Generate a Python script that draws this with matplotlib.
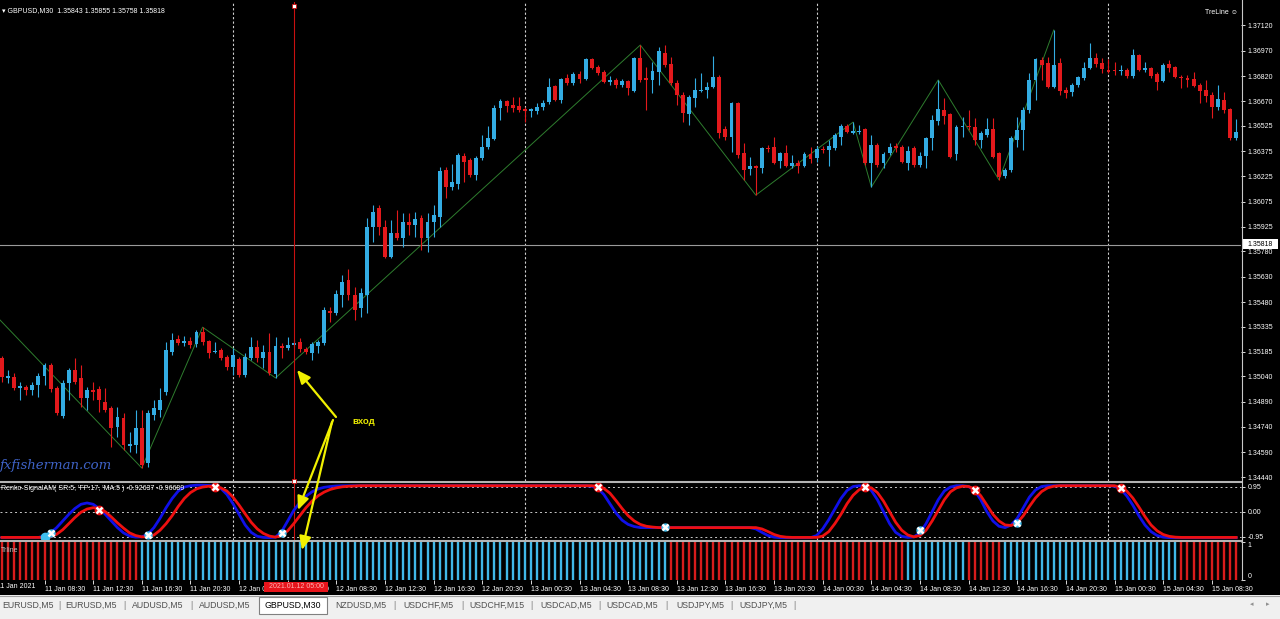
import numpy as np
import matplotlib.pyplot as plt
from matplotlib.patches import Rectangle

plt.rcParams['font.family'] = ['Liberation Sans', 'DejaVu Sans']

# GBPUSD M30, bar index 0 = 12 Jan 2021 00:00, first visible bar = 11 Jan 05:00
first_bar = -38

opens = [
    1.35149, 1.35030, 1.35035, 1.34971, 1.34976, 1.34958, 1.34988, 1.35041, 1.35106, 1.34971,
    1.34804, 1.35000, 1.35077, 1.35030, 1.34911, 1.34958, 1.34965, 1.34887, 1.34852, 1.34738,
    1.34793, 1.34626, 1.34632, 1.34733, 1.34525, 1.34810, 1.34840, 1.34946, 1.35184, 1.35261,
    1.35237, 1.35249, 1.35231, 1.35302, 1.35249, 1.35184, 1.35196, 1.35154, 1.35095, 1.35142,
    1.35047, 1.35149, 1.35213, 1.35149, 1.35184, 1.35053, 1.35219, 1.35208, 1.35225, 1.35243,
    1.35202, 1.35178, 1.35219, 1.35237, 1.35427, 1.35415, 1.35521, 1.35611, 1.35521, 1.35445,
    1.35521, 1.35924, 1.36038, 1.35924, 1.35747, 1.35889, 1.35860, 1.35954, 1.35936, 1.35979,
    1.35860, 1.35954, 1.35984, 1.36263, 1.36162, 1.36180, 1.36346, 1.36322, 1.36233, 1.36334,
    1.36399, 1.36447, 1.36631, 1.36672, 1.36648, 1.36642, 1.36625, 1.36613, 1.36613, 1.36637,
    1.36666, 1.36761, 1.36678, 1.36809, 1.36779, 1.36832, 1.36803, 1.36921, 1.36874, 1.36844,
    1.36785, 1.36797, 1.36767, 1.36791, 1.36731, 1.36927, 1.36809, 1.36797, 1.36844, 1.36957,
    1.36892, 1.36779, 1.36707, 1.36595, 1.36690, 1.36731, 1.36737, 1.36755, 1.36815, 1.36506,
    1.36459, 1.36660, 1.36364, 1.36269, 1.36287, 1.36275, 1.36393, 1.36399, 1.36316, 1.36364,
    1.36287, 1.36304, 1.36287, 1.36358, 1.36334, 1.36387, 1.36381, 1.36393, 1.36459, 1.36524,
    1.36482, 1.36488, 1.36506, 1.36304, 1.36411, 1.36304, 1.36364, 1.36405, 1.36399, 1.36304,
    1.36393, 1.36293, 1.36346, 1.36453, 1.36553, 1.36619, 1.36595, 1.36358, 1.36518, 1.36524,
    1.36518, 1.36441, 1.36471, 1.36506, 1.36364, 1.36227, 1.36263, 1.36441, 1.36500, 1.36619,
    1.36797, 1.36915, 1.36897, 1.36755, 1.36897, 1.36737, 1.36725, 1.36767, 1.36809, 1.36868,
    1.36927, 1.36897, 1.36856, 1.36856, 1.36850, 1.36856, 1.36820, 1.36945, 1.36856, 1.36868,
    1.36832, 1.36791, 1.36892, 1.36874, 1.36815, 1.36809, 1.36803, 1.36767, 1.36737, 1.36707,
    1.36637, 1.36678, 1.36625, 1.36453,
]
highs = [
    1.35160, 1.35077, 1.35059, 1.35006, 1.34988, 1.35006, 1.35059, 1.35118, 1.35118, 1.34982,
    1.35018, 1.35089, 1.35149, 1.35106, 1.34976, 1.35006, 1.34982, 1.34971, 1.34863, 1.34857,
    1.34822, 1.34709, 1.34840, 1.34840, 1.34840, 1.34899, 1.34971, 1.35243, 1.35296, 1.35284,
    1.35278, 1.35272, 1.35314, 1.35331, 1.35255, 1.35243, 1.35208, 1.35166, 1.35208, 1.35154,
    1.35178, 1.35272, 1.35255, 1.35225, 1.35296, 1.35272, 1.35237, 1.35272, 1.35255, 1.35267,
    1.35213, 1.35243, 1.35255, 1.35450, 1.35450, 1.35551, 1.35640, 1.35676, 1.35569, 1.35563,
    1.35979, 1.36055, 1.36055, 1.35966, 1.35966, 1.36026, 1.36008, 1.36008, 1.36014, 1.35996,
    1.36008, 1.36055, 1.36281, 1.36281, 1.36298, 1.36364, 1.36364, 1.36334, 1.36346, 1.36471,
    1.36524, 1.36648, 1.36684, 1.36678, 1.36696, 1.36696, 1.36637, 1.36631, 1.36660, 1.36678,
    1.36809, 1.36767, 1.36809, 1.36832, 1.36844, 1.36850, 1.36927, 1.36927, 1.36886, 1.36856,
    1.36820, 1.36809, 1.36803, 1.36797, 1.36933, 1.37004, 1.36874, 1.36903, 1.36992, 1.37004,
    1.36933, 1.36797, 1.36725, 1.36707, 1.36809, 1.36838, 1.36785, 1.36939, 1.36826, 1.36524,
    1.36666, 1.36666, 1.36423, 1.36340, 1.36293, 1.36399, 1.36411, 1.36459, 1.36370, 1.36411,
    1.36352, 1.36322, 1.36370, 1.36399, 1.36405, 1.36405, 1.36441, 1.36482, 1.36536, 1.36536,
    1.36547, 1.36530, 1.36512, 1.36471, 1.36423, 1.36370, 1.36423, 1.36423, 1.36411, 1.36405,
    1.36405, 1.36370, 1.36459, 1.36589, 1.36797, 1.36690, 1.36601, 1.36530, 1.36577, 1.36619,
    1.36571, 1.36494, 1.36571, 1.36571, 1.36370, 1.36275, 1.36465, 1.36577, 1.36637, 1.36838,
    1.36927, 1.36933, 1.36933, 1.37093, 1.36927, 1.36755, 1.36779, 1.36820, 1.36903, 1.37016,
    1.36957, 1.36927, 1.36921, 1.36903, 1.36886, 1.36868, 1.36980, 1.36951, 1.36903, 1.36874,
    1.36844, 1.36897, 1.36915, 1.36880, 1.36826, 1.36826, 1.36844, 1.36779, 1.36797, 1.36725,
    1.36767, 1.36725, 1.36631, 1.36565,
]
lows = [
    1.35006, 1.35000, 1.34958, 1.34899, 1.34928, 1.34928, 1.34916, 1.34988, 1.34946, 1.34810,
    1.34793, 1.34899, 1.34994, 1.34857, 1.34840, 1.34899, 1.34828, 1.34828, 1.34620, 1.34679,
    1.34603, 1.34591, 1.34585, 1.34496, 1.34502, 1.34780, 1.34798, 1.34928, 1.35166, 1.35225,
    1.35219, 1.35208, 1.35213, 1.35225, 1.35149, 1.35178, 1.35136, 1.35077, 1.35047, 1.35035,
    1.35035, 1.35136, 1.35124, 1.35089, 1.35047, 1.35030, 1.35149, 1.35196, 1.35213, 1.35184,
    1.35172, 1.35136, 1.35178, 1.35225, 1.35361, 1.35403, 1.35450, 1.35492, 1.35373, 1.35391,
    1.35415, 1.35836, 1.35877, 1.35741, 1.35741, 1.35848, 1.35806, 1.35877, 1.35866, 1.35788,
    1.35776, 1.35866, 1.35924, 1.36097, 1.36144, 1.36150, 1.36192, 1.36221, 1.36204, 1.36322,
    1.36387, 1.36441, 1.36559, 1.36607, 1.36607, 1.36607, 1.36547, 1.36577, 1.36595, 1.36619,
    1.36654, 1.36672, 1.36660, 1.36767, 1.36767, 1.36779, 1.36797, 1.36862, 1.36826, 1.36779,
    1.36767, 1.36749, 1.36755, 1.36707, 1.36725, 1.36785, 1.36619, 1.36720, 1.36767, 1.36874,
    1.36767, 1.36648, 1.36547, 1.36530, 1.36637, 1.36725, 1.36690, 1.36749, 1.36453, 1.36441,
    1.36370, 1.36334, 1.36204, 1.36233, 1.36114, 1.36245, 1.36370, 1.36298, 1.36275, 1.36281,
    1.36275, 1.36245, 1.36281, 1.36304, 1.36310, 1.36364, 1.36287, 1.36381, 1.36411, 1.36482,
    1.36477, 1.36477, 1.36293, 1.36162, 1.36281, 1.36275, 1.36352, 1.36370, 1.36304, 1.36263,
    1.36281, 1.36281, 1.36275, 1.36382, 1.36530, 1.36536, 1.36334, 1.36322, 1.36459, 1.36500,
    1.36411, 1.36393, 1.36459, 1.36334, 1.36204, 1.36216, 1.36251, 1.36399, 1.36382, 1.36601,
    1.36678, 1.36797, 1.36749, 1.36749, 1.36707, 1.36690, 1.36702, 1.36755, 1.36797, 1.36862,
    1.36874, 1.36838, 1.36838, 1.36826, 1.36826, 1.36809, 1.36809, 1.36850, 1.36844, 1.36809,
    1.36737, 1.36785, 1.36844, 1.36809, 1.36749, 1.36755, 1.36755, 1.36660, 1.36666, 1.36571,
    1.36619, 1.36601, 1.36441, 1.36441,
]
closes = [
    1.35035, 1.35041, 1.34971, 1.34982, 1.34958, 1.34988, 1.35041, 1.35106, 1.34965, 1.34822,
    1.35000, 1.35077, 1.35006, 1.34911, 1.34958, 1.34946, 1.34899, 1.34840, 1.34733, 1.34798,
    1.34632, 1.34638, 1.34733, 1.34513, 1.34822, 1.34852, 1.34899, 1.35196, 1.35255, 1.35237,
    1.35249, 1.35225, 1.35302, 1.35243, 1.35178, 1.35190, 1.35149, 1.35095, 1.35166, 1.35047,
    1.35154, 1.35213, 1.35149, 1.35184, 1.35059, 1.35219, 1.35208, 1.35225, 1.35237, 1.35202,
    1.35184, 1.35231, 1.35243, 1.35433, 1.35415, 1.35527, 1.35599, 1.35521, 1.35433, 1.35533,
    1.35924, 1.36014, 1.35924, 1.35747, 1.35889, 1.35860, 1.35954, 1.35936, 1.35972, 1.35860,
    1.35954, 1.35996, 1.36257, 1.36162, 1.36192, 1.36352, 1.36310, 1.36233, 1.36334, 1.36399,
    1.36453, 1.36631, 1.36672, 1.36642, 1.36631, 1.36619, 1.36613, 1.36625, 1.36637, 1.36660,
    1.36755, 1.36678, 1.36803, 1.36779, 1.36832, 1.36803, 1.36921, 1.36868, 1.36838, 1.36785,
    1.36797, 1.36767, 1.36791, 1.36749, 1.36927, 1.36797, 1.36797, 1.36850, 1.36969, 1.36886,
    1.36779, 1.36707, 1.36601, 1.36696, 1.36737, 1.36737, 1.36755, 1.36815, 1.36482, 1.36459,
    1.36660, 1.36352, 1.36263, 1.36287, 1.36275, 1.36393, 1.36387, 1.36304, 1.36364, 1.36287,
    1.36304, 1.36287, 1.36358, 1.36328, 1.36387, 1.36381, 1.36405, 1.36471, 1.36524, 1.36488,
    1.36494, 1.36494, 1.36304, 1.36411, 1.36293, 1.36358, 1.36399, 1.36393, 1.36310, 1.36376,
    1.36293, 1.36346, 1.36453, 1.36559, 1.36625, 1.36583, 1.36340, 1.36518, 1.36524, 1.36518,
    1.36441, 1.36482, 1.36506, 1.36340, 1.36221, 1.36263, 1.36453, 1.36500, 1.36619, 1.36797,
    1.36921, 1.36886, 1.36755, 1.36886, 1.36731, 1.36720, 1.36767, 1.36815, 1.36868, 1.36927,
    1.36892, 1.36862, 1.36844, 1.36850, 1.36856, 1.36820, 1.36945, 1.36856, 1.36868, 1.36820,
    1.36785, 1.36886, 1.36868, 1.36815, 1.36809, 1.36797, 1.36761, 1.36731, 1.36702, 1.36637,
    1.36684, 1.36619, 1.36453, 1.36488,
]

# zigzag pivots (bar index, price); the first one is off screen to the left
zz_bars = [-45, -15, -5, 7, 67, 86, 102, 105, 116, 126, 135]
zz_prices = [1.35625, 1.34496, 1.35331, 1.35030, 1.37004, 1.36114, 1.36547, 1.36162,
             1.36797, 1.36204, 1.37093]

bid_price = 1.35818
price_labels = ['1.37120', '1.36970', '1.36820', '1.36670', '1.36525', '1.36375', '1.36225',
                '1.36075', '1.35925', '1.35780', '1.35630', '1.35480', '1.35335', '1.35185',
                '1.35040', '1.34890', '1.34740', '1.34590', '1.34440']

# Renko-SignalAM lines (blue = signal, red = MA)
sig_blue = ([-0.97] * 7 +
            [-0.92, -0.8, -0.6, -0.35, -0.1, 0.12, 0.28, 0.33, 0.28, 0.12, -0.1, -0.35, -0.6,
             -0.8, -0.92, -0.96, -0.95, -0.85, -0.6, -0.25, 0.15, 0.5, 0.78, 0.93, 0.98, 1.0,
             1.0, 0.99, 0.97, 0.88, 0.65, 0.3, -0.1, -0.5, -0.78, -0.93, -0.97, -0.98, -0.96,
             -0.75, -0.35, 0.05, 0.35, 0.58, 0.75, 0.86, 0.92, 0.95, 0.97] +
            [0.98] * 41 +
            [0.96, 0.88, 0.65, 0.3, -0.05, -0.32, -0.48, -0.56, -0.6] +
            [-0.6] * 18 +
            [-0.65, -0.78, -0.9, -0.96] +
            [-0.98] * 6 +
            [-0.9, -0.65, -0.3, 0.1, 0.5, 0.8, 0.95, 0.98, 0.95,
             0.8, 0.45, 0.0, -0.45, -0.78, -0.93, -0.97, -0.95,
             -0.8, -0.45, 0.0, 0.45, 0.78, 0.93, 0.98, 0.98, 0.95,
             0.8, 0.45, 0.0, -0.35, -0.55, -0.6, -0.5,
             -0.25, 0.15, 0.55, 0.82, 0.95, 0.98] +
            [0.98] * 10 +
            [0.96, 0.85, 0.6, 0.25, -0.15, -0.5, -0.75, -0.9, -0.96] +
            [-0.98] * 12)
sig_red = ([-0.97] * 8 +
           [-0.95, -0.85, -0.68, -0.45, -0.22, -0.02, 0.1, 0.15, 0.12, 0.0, -0.2, -0.42, -0.62,
            -0.8, -0.9, -0.95, -0.95, -0.88, -0.7, -0.45, -0.15, 0.2, 0.5, 0.72, 0.86, 0.93,
            0.96, 0.95, 0.9, 0.78, 0.55, 0.25, -0.08, -0.4, -0.65, -0.82, -0.92, -0.96,
            -0.9, -0.72, -0.45, -0.15, 0.15, 0.4, 0.6, 0.74, 0.84, 0.9, 0.94, 0.96, 0.97] +
           [0.98] * 39 +
           [0.96, 0.88, 0.7, 0.42, 0.12, -0.15, -0.35, -0.48, -0.55, -0.58] +
           [-0.6] * 17 +
           [-0.65, -0.75, -0.86, -0.93, -0.96] +
           [-0.97] * 5 +
           [-0.92, -0.75, -0.45, -0.1, 0.3, 0.62, 0.83, 0.92, 0.9,
            0.72, 0.4, 0.0, -0.4, -0.7, -0.88, -0.95, -0.9,
            -0.7, -0.35, 0.05, 0.45, 0.75, 0.9, 0.96, 0.95, 0.85,
            0.6, 0.25, -0.1, -0.35, -0.5, -0.52, -0.42,
            -0.15, 0.2, 0.52, 0.76, 0.9, 0.96] +
           [0.98] * 10 +
           [0.92, 0.78, 0.52, 0.18, -0.18, -0.5, -0.72, -0.86, -0.93, -0.96] +
           [-0.97] * 10)

sell_bars = [-22, -3, 60, 104, 122, 146]
sell_vals = [0.05, 0.95, 0.95, 0.92, 0.8, 0.88]
buy_bars = [-30, -14, 8, 71, 113, 129]
buy_vals = [-0.82, -0.89, -0.81, -0.58, -0.7, -0.43]

# Trline histogram: state changes (bar index where a run starts, 1 = up / 0 = down)
trline_start = [-38, -15, 72, 111, 121, 127, 156]
trline_state = [0, 1, 0, 1, 0, 1, 0]

time_bars = [-31, -23, -15, -7, 1, 9, 17, 25, 33, 41, 49, 57, 65, 73, 81, 89, 97, 105, 113,
             121, 129, 137, 145, 153, 161]
time_labels = ['11 Jan 08:30', '11 Jan 12:30', '11 Jan 16:30', '11 Jan 20:30', '12 Jan 00:30',
               '12 Jan 04:30', '12 Jan 08:30', '12 Jan 12:30', '12 Jan 16:30', '12 Jan 20:30',
               '13 Jan 00:30', '13 Jan 04:30', '13 Jan 08:30', '13 Jan 12:30', '13 Jan 16:30',
               '13 Jan 20:30', '14 Jan 00:30', '14 Jan 04:30', '14 Jan 08:30', '14 Jan 12:30',
               '14 Jan 16:30', '14 Jan 20:30', '15 Jan 00:30', '15 Jan 04:30', '15 Jan 08:30']
day_starts = [0, 48, 96, 144]
cursor_bar = 10

tabs = ['EURUSD,M5', 'EURUSD,M5', 'AUDUSD,M5', 'AUDUSD,M5', 'GBPUSD,M30', 'NZDUSD,M5',
        'USDCHF,M5', 'USDCHF,M15', 'USDCAD,M5', 'USDCAD,M5', 'USDJPY,M5', 'USDJPY,M5']
tab_x = [28, 91, 158, 225, 293, 361, 428, 497, 566, 632, 700, 763]
active_tab = 4

BULL = '#33ace3'
BEAR = '#e3191c'
W, H = 1280, 619

idx = np.arange(first_bar, first_bar + len(closes))
o = np.array(opens)
h = np.array(highs)
l = np.array(lows)
c = np.array(closes)


def rect(x0, y0, x1, y1):
    # pixel box (top-left origin) -> figure fraction
    return [x0 / W, 1 - y1 / H, (x1 - x0) / W, (y1 - y0) / H]


fig = plt.figure(figsize=(W / 100, H / 100), dpi=100, facecolor='black')
ax = fig.add_axes(rect(0, 2, 1241, 481))
ax2 = fig.add_axes(rect(0, 483, 1241, 540), sharex=ax)
ax3 = fig.add_axes(rect(0, 542, 1241, 580), sharex=ax)

for a in (ax, ax2, ax3):
    a.set_facecolor('black')
    for s in a.spines.values():
        s.set_visible(False)
    a.yaxis.tick_right()
    a.tick_params(colors='white', labelsize=5, length=3, width=0.6, pad=2)
ax.tick_params(bottom=False, labelbottom=False)
ax2.tick_params(bottom=False, labelbottom=False)
ax.set_xlim(-38.32, 165.8)

# main price panel: candles
col = np.where(c >= o, BULL, BEAR)
ax.vlines(idx, l, h, colors=col, lw=0.8, zorder=3)
ax.bar(idx, np.maximum(np.abs(c - o), 0.00005), bottom=np.minimum(o, c), width=0.64,
       color=col, linewidth=0, zorder=4)
ax.plot(zz_bars, zz_prices, color='#2e7d2e', lw=0.7, zorder=2)
for d in day_starts:
    ax.axvline(d, color='#d0d0d0', lw=0.8, ls=(0, (2, 2)), zorder=1)
ax.axvline(cursor_bar, color='#c81010', lw=0.8, zorder=5)
ax.axhline(bid_price, color='#9a9a9a', lw=0.8, zorder=1)
ax.set_ylim(1.34419, 1.37259)
ax.set_yticks([float(v) for v in price_labels])
ax.set_yticklabels(price_labels)

# Renko-SignalAM panel
ax2.set_ylim(-1.068, 1.083)
for lev in (0.95, 0.0, -0.95):
    ax2.axhline(lev, color='#c8c8c8', lw=0.7, ls=(0, (2, 3)))
for d in day_starts:
    ax2.axvline(d, color='#d0d0d0', lw=0.8, ls=(0, (2, 2)))
ax2.axvline(cursor_bar, color='#c81010', lw=0.8)
ax2.plot(idx, sig_blue, color='#1010e8', lw=2.0)
ax2.plot(idx, sig_red, color='#ee1010', lw=2.0)
ax2.plot(sell_bars, sell_vals, 'o', ms=6, color='#ee1010', zorder=5)
ax2.plot(sell_bars, sell_vals, 'x', ms=4.5, mew=1.8, color='white', zorder=6)
ax2.plot(buy_bars, buy_vals, 'o', ms=5, color='#40c0f0', zorder=5)
ax2.plot(buy_bars, buy_vals, 'x', ms=4.5, mew=1.8, color='white', zorder=6)
ax2.plot([-31], [-0.96], 'o', ms=6, color='#40c0f0', zorder=5)
ax2.set_yticks([0.95, 0.0, -0.95])
ax2.set_yticklabels(['0.95', '0.00', '-0.95'])

# Trline panel
state = np.zeros(len(idx), dtype=int)
for s, v in zip(trline_start, trline_state):
    state[idx >= s] = v
ax3.vlines(idx, 0, 1, colors=np.where(state == 1, '#40b8e8', '#d81c1c'), lw=1.7)
ax3.axvline(cursor_bar, color='#909090', lw=0.8)
ax3.set_ylim(0, 1)
ax3.set_yticks([1, 0])
ax3.set_yticklabels(['1', '0'])
ax3.get_yticklabels()[0].set_va('top')
ax3.get_yticklabels()[1].set_va('bottom')
ax3.set_xticks(time_bars)
ax3.set_xticklabels(time_labels)
ax3.tick_params(axis='x', length=3, pad=1)
for t in ax3.get_xticklabels():
    t.set_ha('left')

# overlay in pixel coordinates for labels, arrows and the tab bar
ov = fig.add_axes([0, 0, 1, 1], zorder=10)
ov.set_xlim(0, W)
ov.set_ylim(H, 0)
ov.axis('off')

ov.plot([0, 1241], [482, 482], color='#b4b4b4', lw=1.5)
ov.plot([0, 1241], [541.2, 541.2], color='#b4b4b4', lw=1.5)
ov.plot([1241.5, 1241.5], [0, 580], color='#c8c8c8', lw=0.8)
ov.plot([294, 294], [6, 481], 's', ms=2.5, mfc='white', mec='#c81010', mew=0.6)

ov.text(2, 11, '\u25be GBPUSD,M30  1.35843 1.35855 1.35758 1.35818', color='white',
        fontsize=5, va='center')
ov.text(1205, 12, 'TreLine \u263a', color='white', fontsize=5, va='center')
ov.text(0, 465, 'fxfisherman.com', color='#3f63c8', fontsize=9.5, style='italic',
        family='DejaVu Serif', va='center')
ov.text(1, 489, "Renko-SignalAM( SR:5, 'FP:17, 'MA:5 ) -0.92637 -0.96689", color='white',
        fontsize=5, va='center')
ov.text(1, 550, 'Trline', color='#c0c0c0', fontsize=5, va='center')
ov.text(-3, 587, '11 Jan 2021', color='white', fontsize=5, va='center')

# entry arrows
ov.text(352, 421, '\u0432\u0445\u043e\u0434', color='#e8e800', fontsize=6.8,
        fontweight='bold', va='center')
for x0, y0, x1, y1 in [(336, 417, 297, 370), (333, 420, 298, 510), (332, 422, 302, 550)]:
    ov.annotate('', xy=(x1, y1), xytext=(x0, y0),
                arrowprops=dict(arrowstyle='-|>,head_length=0.8,head_width=0.35',
                                color='#f0f000', lw=1.6, shrinkA=0, shrinkB=0))

# bid label and cursor time label
ov.add_patch(Rectangle((1242, 239), 36, 10, facecolor='white', edgecolor='none'))
ov.text(1260, 244, '1.35818', color='black', fontsize=5, ha='center', va='center')
ov.add_patch(Rectangle((264, 582), 64, 10, facecolor='#e8141b', edgecolor='none'))
ov.text(296, 587, '2021.01.12 05:00', color='#ffb4b4', fontsize=5, ha='center',
        va='center')

# tab bar
ov.add_patch(Rectangle((0, 595), W, 24, facecolor='#f0f0f0', edgecolor='none'))
ov.plot([0, W], [595.5, 595.5], color='#a0a0a0', lw=0.8)
ov.add_patch(Rectangle((259, 597), 68, 17, facecolor='white', edgecolor='#808080', lw=0.8))
for k, (name, x) in enumerate(zip(tabs, tab_x)):
    ov.text(x, 605, name, color='black' if k == active_tab else '#505050', fontsize=6.3,
            ha='center', va='center')
    if k + 1 < len(tabs):
        sep = (x + tab_x[k + 1]) / 2
    else:
        sep = x + 31
    if k != active_tab and k + 1 != active_tab:
        ov.text(sep, 605, '|', color='#808080', fontsize=6.3, ha='center', va='center')
ov.text(1252, 605, '\u25c2', color='#909090', fontsize=5, ha='center', va='center')
ov.text(1268, 605, '\u25b8', color='#909090', fontsize=5, ha='center', va='center')

fig.savefig('out.png', dpi=100, facecolor='black')
